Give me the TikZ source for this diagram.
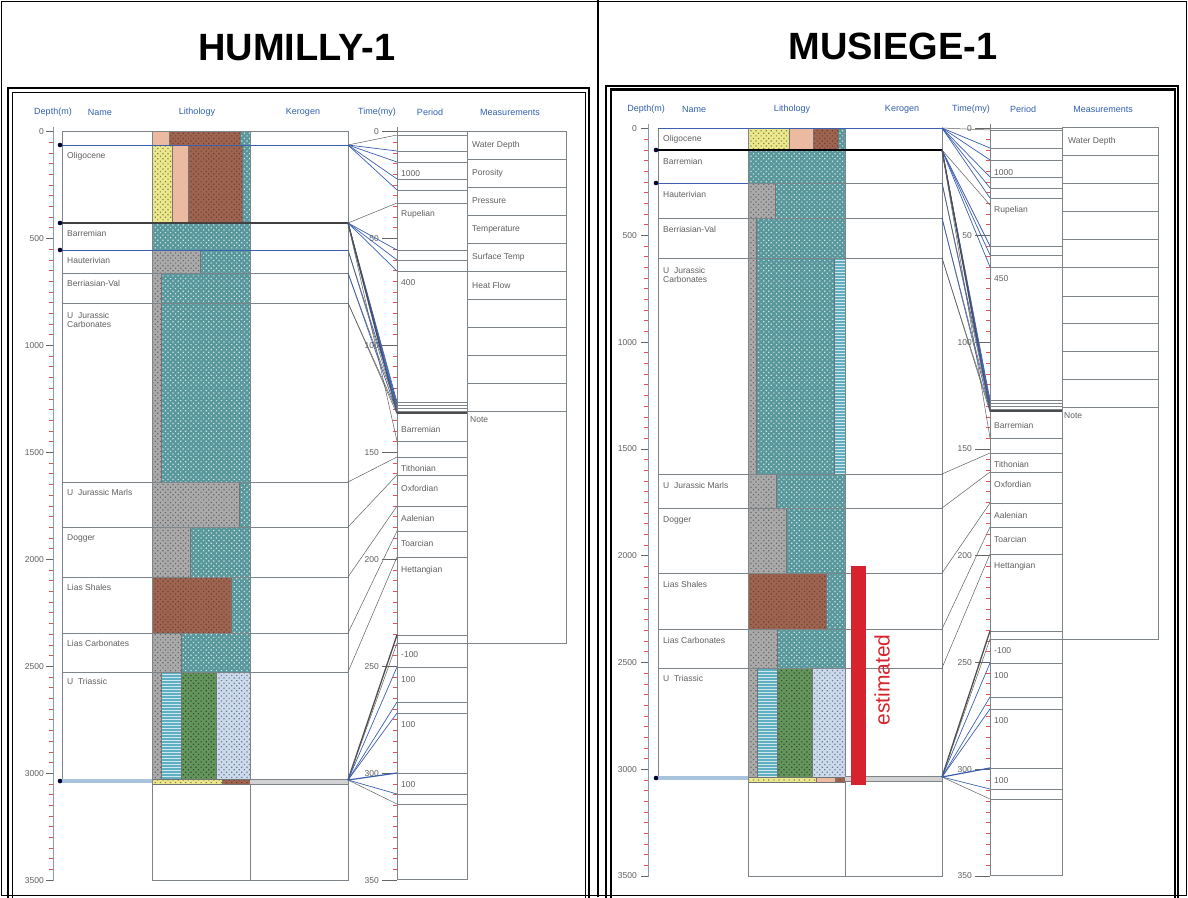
\documentclass[tikz,border=0pt]{standalone}
\usepackage{fontspec}
\setmainfont{Liberation Sans}
\usetikzlibrary{patterns,patterns.meta}
\definecolor{tealc}{RGB}{88,152,156}
\definecolor{brownc}{RGB}{158,100,80}
\definecolor{salmonc}{RGB}{236,186,160}
\definecolor{yellowc}{RGB}{236,232,140}
\definecolor{grayc}{RGB}{170,170,170}
\definecolor{greenc}{RGB}{100,150,92}
\definecolor{lbluec}{RGB}{204,218,238}
\definecolor{cyanc}{RGB}{95,175,195}
\definecolor{hdr}{RGB}{50,95,175}
\definecolor{conn}{RGB}{60,95,175}
\definecolor{tickred}{RGB}{225,85,85}
\definecolor{gridc}{RGB}{125,132,138}
\definecolor{txtc}{RGB}{95,95,95}
\definecolor{estred}{RGB}{215,35,45}
\definecolor{bandc}{RGB}{170,195,220}
\tikzset{
 dotpat/.style={pattern={Dots[distance=3.6pt,radius=0.85pt,angle=45]}},
 lteal/.style={fill=tealc, postaction={dotpat, pattern color=white!75!tealc}},
 lbrown/.style={fill=brownc, postaction={dotpat, pattern color=brownc!65!black}},
 lsalmon/.style={fill=salmonc},
 lyellow/.style={fill=yellowc, postaction={dotpat, pattern color=yellowc!55!black}},
 lgray/.style={fill=grayc, postaction={dotpat, pattern color=grayc!60!black}},
 lgreen/.style={fill=greenc, postaction={dotpat, pattern color=greenc!50!black}},
 llblue/.style={fill=lbluec, postaction={dotpat, pattern color=lbluec!55!black}},
 lcyan/.style={fill=cyanc, postaction={pattern=horizontal lines, pattern color=white!70!cyanc}},
 litline/.style={draw=black!55, line width=.35},
 gl/.style={draw=gridc, line width=.55},
 lab/.style={font=\fontsize{8.5}{9.5}\selectfont, text=txtc, inner sep=0pt},
 hd/.style={font=\fontsize{9}{9}\selectfont, text=hdr, inner sep=0pt},
 cb/.style={draw=conn, line width=.7},
 cg/.style={draw=gray!75!black, line width=.5},
 cdk/.style={draw=black!70, line width=1.3},
 cbt/.style={draw=conn, line width=1.2},
 topdot/.style={fill=black!80!blue},
 ttl/.style={font=\fontsize{38}{38}\selectfont\bfseries, inner sep=0pt}
}
\newcommand\lit[5]{\path[#5] (#1,#2) rectangle (#3,#4); \draw[litline] (#1,#2) rectangle (#3,#4);}
\begin{document}
\begin{tikzpicture}[x=1pt,y=-1pt]
\useasboundingbox (0,0) rectangle (1188,897);
\fill[white] (0,0) rectangle (1188,897);
% outer frame and divider
\draw[line width=1] (1.5,1.5) rectangle (1186.5,895.5);
\draw[line width=1.2] (598,0) -- (598,897);
% titles
\node[ttl] (t1) at (297,48) {HUMILLY-1};
\node[ttl] (t2) at (893,46) {MUSIEGE-1};
% panel frames
\draw[line width=1.6] (8,900) -- (8,88) -- (589,88) -- (589,900);
\draw[line width=.8] (12.5,900) -- (12.5,92) -- (585,92) -- (585,900);
\draw[line width=1.2] (606,900) -- (606,86) -- (1178,86) -- (1178,900);
\draw[line width=2.2] (611,900) -- (611,89.5) -- (1175,89.5) -- (1175,900);

%%%%%%%%%%%%%%%%%%%% LEFT PANEL %%%%%%%%%%%%%%%%%%%%
\node[hd] (lh1) at (53,112) {Depth(m)};
\node[hd] (lh2) at (100,112) {Name};
\node[hd] (lh3) at (197,112) {Lithology};
\node[hd] (lh4) at (303,112) {Kerogen};
\node[hd] (lh5) at (377,112) {Time(my)};
\node[hd] (lh6) at (430,112) {Period};
\node[hd] (lh7) at (510,112) {Measurements};
% depth axis
\draw[draw=bandc!80!black, line width=.5] (53,127) -- (53,881);
\foreach \i in {0,...,70} {
  \pgfmathsetmacro\yy{131.5+\i*50*0.2139}
  \draw[tickred, line width=.6] (48.5,\yy) -- (53,\yy);
}
\foreach \d in {0,500,...,3500} {
  \pgfmathsetmacro\yy{131.5+\d*0.2139}
  \draw[black!60, line width=.6] (46,\yy) -- (53,\yy);
  \node[lab, anchor=east] (ld\d) at (44,\yy) {\d};
}
% lithology
\lit{152}{131}{169}{145}{lsalmon}
\lit{169}{131}{240}{145}{lbrown}
\lit{240}{131}{250}{145}{lteal}
\lit{152}{145}{172}{223}{lyellow}
\lit{172}{145}{188}{223}{lsalmon}
\lit{188}{145}{242}{223}{lbrown}
\lit{242}{145}{250}{223}{lteal}
\lit{152}{223}{250}{250}{lteal}
\lit{152}{250}{200}{273}{lgray}
\lit{200}{250}{250}{273}{lteal}
\lit{152}{273}{161}{482}{lgray}
\lit{161}{273}{250}{482}{lteal}
\lit{152}{482}{239}{527}{lgray}
\lit{239}{482}{250}{527}{lteal}
\lit{152}{527}{190}{577}{lgray}
\lit{190}{527}{250}{577}{lteal}
\lit{152}{577}{231}{633}{lbrown}
\lit{231}{577}{250}{633}{lteal}
\lit{152}{633}{181}{672}{lgray}
\lit{181}{633}{250}{672}{lteal}
\lit{152}{672}{161}{779}{lgray}
\lit{161}{672}{181}{779}{lcyan}
\lit{181}{672}{216}{779}{lgreen}
\lit{216}{672}{250}{779}{llblue}
\lit{152}{779}{222}{784}{lyellow}
\lit{222}{779}{250}{784}{lbrown}
% column borders
\draw[gl] (62,131) -- (62,780);
\draw[gl] (152,131) -- (152,880) -- (348,880) -- (348,131);
\draw[gl] (250,131) -- (250,880);
\foreach \y in {131,273,303,482,527,577,633,672} \draw[gl] (62,\y) -- (348,\y);
\draw[conn, line width=.8] (60,145) -- (348,145);
\draw[black!75, line width=1.4] (60,223) -- (348,223);
\draw[conn, line width=.8] (60,250) -- (348,250);
\draw[bandc, line width=3.5] (60,781) -- (152,781);
\fill[gray!35] (250,779) rectangle (348,784);
\draw[gl] (250,779) -- (348,779) (250,784) -- (348,784);
\foreach \y in {145,223,250,781} \fill[topdot] (60,\y) circle (2.3);
% formation names
\node[lab, anchor=north west] (ln1) at (67,152) {Oligocene};
\node[lab, anchor=north west] (ln2) at (67,230) {Barremian};
\node[lab, anchor=north west] (ln3) at (67,257) {Hauterivian};
\node[lab, anchor=north west] (ln4) at (67,280) {Berriasian-Val};
\node[lab, anchor=north west, align=left] (ln5) at (67,312) {U\ \ Jurassic\\Carbonates};
\node[lab, anchor=north west] (ln6) at (67,489) {U\ \ Jurassic Marls};
\node[lab, anchor=north west] (ln7) at (67,534) {Dogger};
\node[lab, anchor=north west] (ln8) at (67,584) {Lias Shales};
\node[lab, anchor=north west] (ln9) at (67,640) {Lias Carbonates};
\node[lab, anchor=north west] (ln10) at (67,678) {U\ \ Triassic};
% time axis
\draw[draw=gridc, line width=.6] (397,127) -- (397,880);
\foreach \i in {0,...,70} {
  \pgfmathsetmacro\yy{131.5+\i*5*2.139}
  \draw[tickred, line width=.6] (392.5,\yy) -- (397,\yy);
}
\foreach \t in {0,50,...,350} {
  \pgfmathsetmacro\yy{131.5+\t*2.139}
  \draw[black!60, line width=.6] (382,\yy) -- (397,\yy);
  \node[lab, anchor=east] (lt\t) at (379,\yy) {\t};
}
% period column
\draw[gl] (397,131) rectangle (467,879);
\foreach \y in {135,151,162,179,190,203,250,260,271,402,405,408,411,441,457,475,506,531,557,635,643,667,702,713,773,794,804}
  \draw[gl] (397,\y) -- (467,\y);
\draw[black!70, line width=1.2] (397,413) -- (467,413);
\node[lab, anchor=west] (lp1) at (401,174) {1000};
\node[lab, anchor=west] (lp2) at (401,214) {Rupelian};
\node[lab, anchor=west] (lp3) at (401,283) {400};
\node[lab, anchor=west] (lp4) at (401,429) {Barremian};
\node[lab, anchor=west] (lp5) at (401,468) {Tithonian};
\node[lab, anchor=west] (lp6) at (401,488) {Oxfordian};
\node[lab, anchor=west] (lp7) at (401,518) {Aalenian};
\node[lab, anchor=west] (lp8) at (401,543) {Toarcian};
\node[lab, anchor=west] (lp9) at (401,570) {Hettangian};
\node[lab, anchor=west] (lp10) at (401,655) {-100};
\node[lab, anchor=west] (lp11) at (401,680) {100};
\node[lab, anchor=west] (lp12) at (401,725) {100};
\node[lab, anchor=west] (lp13) at (401,785) {100};
% measurements
\draw[gl] (467,131) rectangle (566,643);
\foreach \y in {159,187,215,243,271,299,327,355,383,411} \draw[gl] (467,\y) -- (566,\y);
\node[lab, anchor=west] (lm1) at (472,145) {Water Depth};
\node[lab, anchor=west] (lm2) at (472,173) {Porosity};
\node[lab, anchor=west] (lm3) at (472,201) {Pressure};
\node[lab, anchor=west] (lm4) at (472,229) {Temperature};
\node[lab, anchor=west] (lm5) at (472,257) {Surface Temp};
\node[lab, anchor=west] (lm6) at (472,285) {Heat Flow};
\node[lab, anchor=north west] (lm7) at (470,416) {Note};
% connectors
\foreach \a/\b/\s in {145/135/cg,145/151/cb,145/162/cb,145/179/cb,145/190/cb,
  223/203/cg,223/250/cb,223/260/cb,223/271/cb,223/402/cb,223/405/cb,223/408/cb,223/411/cb,223/413/cdk,223/441/cg,
  250/404/cb,250/410/cg,273/407/cg,273/412/cb,303/411/cg,303/414/cg,
  482/457/cg,527/475/cg,577/506/cg,633/531/cg,672/557/cg,
  780/635/cdk,780/643/cg,780/667/cb,780/702/cb,780/713/cb,780/773/cbt,780/794/cb,780/804/cg}
  \draw[\s] (348,\a) -- (397,\b);

%%%%%%%%%%%%%%%%%%%% RIGHT PANEL %%%%%%%%%%%%%%%%%%%%
\node[hd] (rh1) at (646,109) {Depth(m)};
\node[hd] (rh2) at (694,109) {Name};
\node[hd] (rh3) at (792,109) {Lithology};
\node[hd] (rh4) at (902,109) {Kerogen};
\node[hd] (rh5) at (971,109) {Time(my)};
\node[hd] (rh6) at (1023,109) {Period};
\node[hd] (rh7) at (1103,109) {Measurements};
% depth axis
\draw[draw=bandc!80!black, line width=.5] (648,124) -- (648,877);
\foreach \i in {0,...,70} {
  \pgfmathsetmacro\yy{128.5+\i*50*0.21357}
  \draw[tickred, line width=.6] (643.5,\yy) -- (648,\yy);
}
\foreach \d in {0,500,...,3500} {
  \pgfmathsetmacro\yy{128.5+\d*0.21357}
  \draw[black!60, line width=.6] (641,\yy) -- (648,\yy);
  \node[lab, anchor=east] (rd\d) at (637,\yy) {\d};
}
% lithology
\lit{748}{128}{789}{150}{lyellow}
\lit{789}{128}{813}{150}{lsalmon}
\lit{813}{128}{838}{150}{lbrown}
\lit{838}{128}{845}{150}{lteal}
\lit{748}{150}{845}{183}{lteal}
\lit{748}{183}{775}{218}{lgray}
\lit{775}{183}{845}{218}{lteal}
\lit{748}{218}{756}{258}{lgray}
\lit{756}{218}{845}{258}{lteal}
\lit{748}{258}{756}{474}{lgray}
\lit{756}{258}{834}{474}{lteal}
\lit{834}{258}{845}{474}{lcyan}
\lit{748}{474}{776}{508}{lgray}
\lit{776}{474}{845}{508}{lteal}
\lit{748}{508}{786}{573}{lgray}
\lit{786}{508}{845}{573}{lteal}
\lit{748}{573}{826}{629}{lbrown}
\lit{826}{573}{845}{629}{lteal}
\lit{748}{629}{777}{668}{lgray}
\lit{777}{629}{845}{668}{lteal}
\lit{748}{668}{757}{777}{lgray}
\lit{757}{668}{777}{777}{lcyan}
\lit{777}{668}{812}{777}{lgreen}
\lit{812}{668}{845}{777}{llblue}
\lit{748}{777}{816}{782}{lyellow}
\lit{816}{777}{835}{782}{lsalmon}
\lit{835}{777}{845}{782}{lbrown}
% column borders
\draw[gl] (658,128) -- (658,778);
\draw[gl] (748,128) -- (748,876) -- (942,876) -- (942,128);
\draw[gl] (845,128) -- (845,876);
\draw[conn, line width=.6] (658,128) -- (942,128);
\foreach \y in {218,258,474,508,573,629,668} \draw[gl] (658,\y) -- (942,\y);
\draw[black, line width=1.6] (656,150) -- (942,150);
\draw[conn, line width=.8] (656,183) -- (748,183);
\draw[gl] (748,183) -- (942,183);
\draw[bandc, line width=3.5] (656,778) -- (748,778);
\fill[gray!35] (845,776) rectangle (942,781);
\draw[gl] (845,776) -- (942,776) (845,781) -- (942,781);
\foreach \y in {150,183,778} \fill[topdot] (656,\y) circle (2.3);
% formation names
\node[lab, anchor=north west] (rn1) at (663,135) {Oligocene};
\node[lab, anchor=north west] (rn2) at (663,158) {Barremian};
\node[lab, anchor=north west] (rn3) at (663,191) {Hauterivian};
\node[lab, anchor=north west] (rn4) at (663,226) {Berriasian-Val};
\node[lab, anchor=north west, align=left] (rn5) at (663,267) {U\ \ Jurassic\\Carbonates};
\node[lab, anchor=north west] (rn6) at (663,482) {U\ \ Jurassic Marls};
\node[lab, anchor=north west] (rn7) at (663,516) {Dogger};
\node[lab, anchor=north west] (rn8) at (663,581) {Lias Shales};
\node[lab, anchor=north west] (rn9) at (663,637) {Lias Carbonates};
\node[lab, anchor=north west] (rn10) at (663,675) {U\ \ Triassic};
% estimated bar
\fill[estred] (851,566) rectangle (866,785);
\node[font=\fontsize{21}{21}\selectfont, text=estred, rotate=90, inner sep=0pt] (est) at (882,680) {estimated};
% time axis
\draw[draw=gridc, line width=.6] (990,124) -- (990,876);
\foreach \i in {0,...,70} {
  \pgfmathsetmacro\yy{128.5+\i*5*2.1357}
  \draw[tickred, line width=.6] (985.5,\yy) -- (990,\yy);
}
\foreach \t in {0,50,...,350} {
  \pgfmathsetmacro\yy{128.5+\t*2.1357}
  \draw[black!60, line width=.6] (975,\yy) -- (990,\yy);
  \node[lab, anchor=east] (rt\t) at (972,\yy) {\t};
}
% period column
\draw[gl] (990,128) rectangle (1062,875);
\foreach \y in {130,148,160,177,188,198,246,255,267,400,403,406,409,438,453,472,503,527,554,631,639,663,697,709,768,789,799}
  \draw[gl] (990,\y) -- (1062,\y);
\draw[black!70, line width=1.2] (990,411) -- (1062,411);
\node[lab, anchor=west] (rp1) at (994,173) {1000};
\node[lab, anchor=west] (rp2) at (994,210) {Rupelian};
\node[lab, anchor=west] (rp3) at (994,279) {450};
\node[lab, anchor=west] (rp4) at (994,425) {Barremian};
\node[lab, anchor=west] (rp5) at (994,464) {Tithonian};
\node[lab, anchor=west] (rp6) at (994,484) {Oxfordian};
\node[lab, anchor=west] (rp7) at (994,515) {Aalenian};
\node[lab, anchor=west] (rp8) at (994,539) {Toarcian};
\node[lab, anchor=west] (rp9) at (994,566) {Hettangian};
\node[lab, anchor=west] (rp10) at (994,651) {-100};
\node[lab, anchor=west] (rp11) at (994,676) {100};
\node[lab, anchor=west] (rp12) at (994,721) {100};
\node[lab, anchor=west] (rp13) at (994,781) {100};
% measurements
\draw[gl] (1062,127) rectangle (1158,639);
\foreach \y in {155,183,211,239,267,296,323,351,379,407} \draw[gl] (1062,\y) -- (1158,\y);
\node[lab, anchor=west] (rm1) at (1068,141) {Water Depth};
\node[lab, anchor=north west] (rm2) at (1064,412) {Note};
% connectors
\foreach \a/\b/\s in {128/130/cg,128/148/cb,128/160/cb,128/177/cb,128/188/cb,128/198/cb,
  150/205/cg,150/246/cb,150/255/cb,150/267/cb,150/400/cb,150/403/cb,150/406/cb,150/409/cb,150/411/cdk,150/438/cg,
  183/402/cb,183/408/cg,218/405/cg,218/410/cb,258/409/cg,258/412/cg,
  474/453/cg,508/472/cg,573/503/cg,629/527/cg,668/554/cg,
  777/631/cdk,777/639/cg,777/663/cb,777/697/cb,777/709/cb,777/768/cbt,777/789/cb,777/799/cg}
  \draw[\s] (942,\a) -- (990,\b);
\end{tikzpicture}
\end{document}
